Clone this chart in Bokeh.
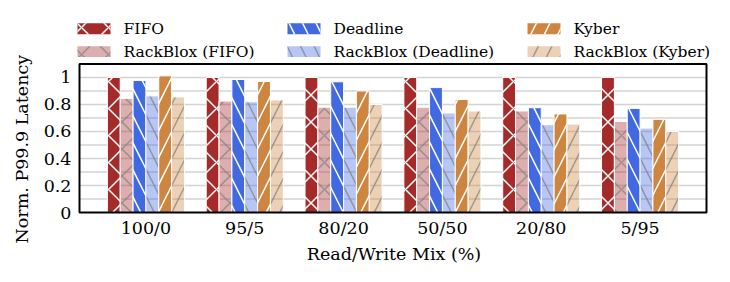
from bokeh.plotting import figure
from bokeh.models import (ColumnDataSource, FixedTicker, CustomJSTickFormatter,
                          Range1d, Title)
from bokeh.core.properties import value
from bokeh.embed import file_html
from bokeh.resources import INLINE

categories = ["100/0", "95/5", "80/20", "50/50", "20/80", "5/95"]
series_names = ["FIFO", "RackBlox (FIFO)", "Deadline", "RackBlox (Deadline)",
                "Kyber", "RackBlox (Kyber)"]
fifo = [1.0, 1.0, 1.0, 1.0, 1.0, 1.0]
rb_fifo = [0.845, 0.825, 0.78, 0.78, 0.752, 0.674]
deadline = [0.978, 0.985, 0.968, 0.925, 0.776, 0.771]
rb_deadline = [0.864, 0.82, 0.78, 0.737, 0.65, 0.625]
kyber = [1.012, 0.97, 0.90, 0.837, 0.73, 0.69]
rb_kyber = [0.856, 0.834, 0.80, 0.752, 0.655, 0.60]
series_values = [fifo, rb_fifo, deadline, rb_deadline, kyber, rb_kyber]
y_ticks = [0, 0.2, 0.4, 0.6, 0.8, 1.0]
grid_ticks = [0.1, 0.2, 0.3, 0.4, 0.5, 0.6, 0.7, 0.8, 0.9, 1.0]

colors = ["#a52a2a", "#a52a2a", "#4169e1", "#4169e1", "#cd853f", "#cd853f"]
hatches = ["x", "x", "\\", "\\", "/", "/"]
light = [False, True, False, True, False, True]

FONT = "DejaVu Serif"
bw = 0.13
W, H = 714, 266
# visible axes box in data units
XB0, XB1 = -0.672, 5.672
YB0, YB1 = 0.0, 1.1
# frame (in px) is larger than the visible box so the legend fits inside it
FL, FR, FT, FB = 75, 712, 10, 216
BL, BR, BT, BBOT = 79, 706, 64, 214
sx = (BR - BL) / (XB1 - XB0)
sy = (BBOT - BT) / (YB1 - YB0)
x_range = Range1d(XB0 - (BL - FL) / sx, XB1 + (FR - BR) / sx)
y_range = Range1d(YB0 - (FB - BBOT) / sy, YB1 + (BT - FT) / sy)


def style(k):
    if light[k]:
        return dict(fill_color=colors[k], fill_alpha=0.38, line_color="white",
                    line_width=1, hatch_pattern=hatches[k], hatch_color="#7f7f7f",
                    hatch_alpha=0.7, hatch_weight=1.5, hatch_scale=27)
    return dict(fill_color=colors[k], line_color="white", line_width=1,
                hatch_pattern=hatches[k], hatch_color="white",
                hatch_weight=1.5, hatch_scale=27)


p = figure(width=W, height=H, output_backend="svg", toolbar_location=None,
           x_range=x_range, y_range=y_range,
           min_border_left=FL, min_border_right=W - FR, min_border_top=FT,
           min_border_bottom=H - FB)
p.extra_x_ranges = {"px": Range1d(FL, FR)}
p.extra_y_ranges = {"px": Range1d(FB, FT)}
p.grid.visible = False
p.outline_line_color = None

# horizontal grid lines inside the box
p.segment(x0=[XB0] * len(grid_ticks), x1=[XB1] * len(grid_ticks),
          y0=grid_ticks, y1=grid_ticks, line_color="#d3d3d3", line_width=1.5)

for k, (name, vals) in enumerate(zip(series_names, series_values)):
    xs = [i + (k - 2.5) * bw for i in range(len(categories))]
    src = ColumnDataSource(dict(x=xs, top=vals))
    p.vbar(x="x", top="top", width=bw, source=src, **style(k))

# axes box
p.quad(left=[XB0], right=[XB1], bottom=[YB0], top=[YB1], fill_color=None,
       line_color="black", line_width=2)

# legend (pixel coordinates via extra ranges)
col_x = [77, 287, 527]
row_y = [28.5, 51.5]
for k, name in enumerate(series_names):
    c, r = k // 2, k % 2
    st = style(k)
    st["line_color"] = None
    p.rect(x=[col_x[c] + 16.5], y=[row_y[r]], width=33, height=11,
           x_range_name="px", y_range_name="px", **st)
    p.text(x=[col_x[c] + 46], y=[row_y[r]], text=[name],
           x_range_name="px", y_range_name="px",
           text_font=value(FONT), text_font_size="15.5px",
           text_baseline="middle", text_align="left", text_color="black")

p.yaxis.ticker = FixedTicker(ticks=y_ticks)
p.yaxis.formatter = CustomJSTickFormatter(code="return String(Number(tick.toFixed(1)));")
p.xaxis.ticker = FixedTicker(ticks=list(range(len(categories))))
p.xaxis.major_label_overrides = {i: c for i, c in enumerate(categories)}

for ax in (p.xaxis, p.yaxis):
    ax.axis_line_color = None
    ax.major_tick_line_color = None
    ax.minor_tick_line_color = None
    ax.major_tick_out = 0
    ax.major_tick_in = 0
    ax.major_label_text_font = FONT
    ax.major_label_text_font_size = "17.5px"
    ax.major_label_text_color = "black"
    ax.axis_label_text_font = FONT
    ax.axis_label_text_font_size = "17.5px"
    ax.axis_label_text_font_style = "normal"
    ax.axis_label_text_color = "black"
p.yaxis.major_label_standoff = 4
p.xaxis.major_label_standoff = 3
p.xaxis.axis_label_standoff = 3
p.xaxis.axis_label = "Read/Write Mix (%)"

ylab = Title(text="Norm. P99.9 Latency", align="left", offset=-29,
             text_font=FONT, text_font_size="17.5px", text_font_style="normal",
             text_color="black", standoff=18)
p.add_layout(ylab, "left")

open("out.html", "w").write(file_html(p, INLINE))
